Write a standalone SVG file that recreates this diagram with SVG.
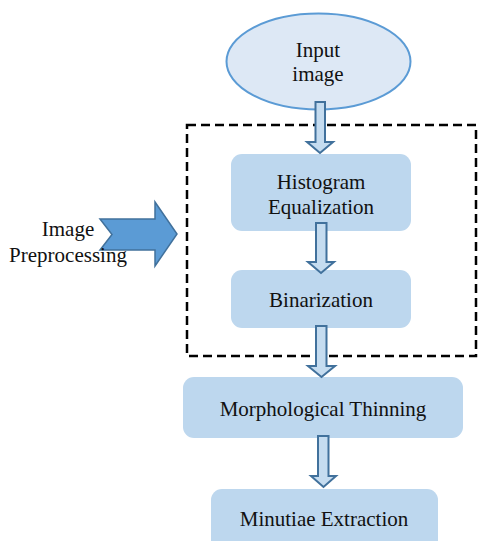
<svg xmlns="http://www.w3.org/2000/svg" width="479" height="541" viewBox="0 0 479 541">
<style>
.box{fill:#bdd7ee;}
.t{font-family:"Liberation Serif","Times New Roman",serif;font-size:21px;fill:#111;text-anchor:middle;}
.conn{fill:#c5dcf0;stroke:#41719c;stroke-width:2;stroke-linejoin:miter;}
</style>
<rect width="479" height="541" fill="#ffffff"/>
<g id="input">
<ellipse cx="318.5" cy="61.5" rx="92" ry="48" fill="#dde8f5" stroke="#5b9bd5" stroke-width="2"/>
<text class="t" x="318" y="57">Input</text>
<text class="t" x="318" y="81">image</text>
</g>
<g id="preprocessing-frame">
<rect x="187" y="125" width="289" height="231" fill="none" stroke="#000" stroke-width="2.5" stroke-dasharray="9,5"/>
</g>
<g id="histogram">
<rect class="box" x="231" y="154" width="180" height="77" rx="11"/>
<text class="t" x="321" y="188.5">Histogram</text>
<text class="t" x="321" y="213.5">Equalization</text>
</g>
<g id="binarization">
<rect class="box" x="231" y="270" width="180" height="58" rx="11"/>
<text class="t" x="321" y="306.5">Binarization</text>
</g>
<g id="thinning">
<rect class="box" x="183" y="377" width="280" height="61" rx="11"/>
<text class="t" x="323" y="415.5">Morphological Thinning</text>
</g>
<g id="minutiae">
<rect class="box" x="211" y="489" width="227" height="70" rx="11"/>
<text class="t" x="324" y="526">Minutiae Extraction</text>
</g>
<g id="image-preprocessing-label">
<polygon points="100,219 155,219 155,202 177,234 155,266 155,250 100,250 112,234.5" fill="#5b9bd5" stroke="#41719c" stroke-width="1.5"/>
<text class="t" x="68" y="236">Image</text>
<text class="t" x="68" y="262">Preprocessing</text>
</g>
<g id="connectors">
<path class="conn" d="M315.5,102 H325 V142 H333 L320,153 L307,142 H315.5 Z"/>
<path class="conn" d="M316,223 H326.5 V262 H334 L321,273 L308,262 H316 Z"/>
<path class="conn" d="M316,326 H326.5 V366 H335 L321.5,377 L308,366 H316 Z"/>
<path class="conn" d="M318,436 H328.5 V476 H336 L323.5,487 L311,476 H318 Z"/>
</g>
</svg>
